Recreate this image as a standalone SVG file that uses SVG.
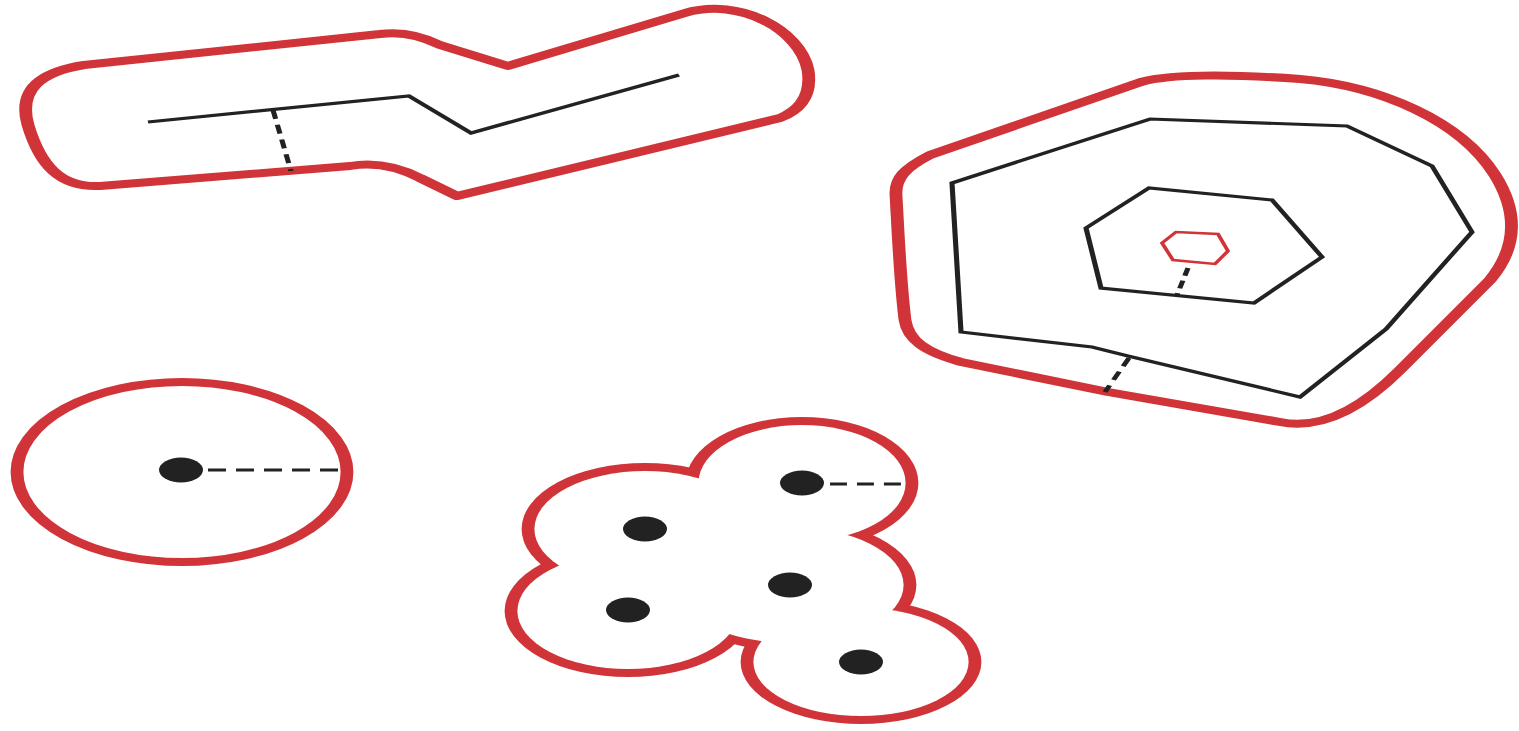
<svg xmlns="http://www.w3.org/2000/svg" width="1519" height="731" viewBox="0 0 1519 731">
<style>
.buf{fill:none;stroke:#d03438;stroke-width:8;stroke-linejoin:round}
.geom{fill:none;stroke:#222;stroke-width:3.2;stroke-linejoin:miter}
.dash{fill:none;stroke:#222;stroke-width:3.2}
.dot{fill:#222}
.rf{fill:#d03438}
.wf{fill:#fff}
</style>
<rect width="1519" height="731" fill="#fff"/>
<g transform="matrix(1.6,0,0,1,0,0)">
<g id="line-buffer">
<path class="buf" d="M 52.5,65 L 237.5,34 Q 256.25,30 275,45 L 317.5,66 L 428.125,13 C 462.5,-3 500,30 505,70 C 507.5,95 500,110 487.5,118 L 285.625,196 L 262.5,178 Q 240.625,160 218.75,166 L 62.5,186 C 37.5,188 25,165 17.5,125 C 11.25,90 25,72 52.5,65 Z"/>
<polyline class="geom" points="92.5,122 255.625,96 294.375,133 424.375,75"/>
<line class="dash" x1="170.625" y1="110" x2="181.875" y2="171" stroke-dasharray="9,6"/>
</g>
<g id="polygon-buffer">
<path class="buf" d="M 560,195 C 559.375,178 565.625,168 581.25,155 L 713.125,82 C 731.25,74 768.75,74 812.5,79 C 862.5,86 912.5,120 934.375,175 C 950,215 946.875,250 931.25,280 L 875,370 C 850,410 825,430 800,422 L 692.5,392 L 600.625,362 C 578.125,352 567.5,340 565.625,320 C 562.5,280 561.25,230 560,195 Z"/>
<polygon class="geom" points="595,183 718.75,119 841.875,126 895,166 920,232 866.25,329 812.5,397 705,356 682.5,347 600.625,332"/>
<polygon class="geom" points="678.75,228 718.125,188 795,200 826.25,257 783.75,303 688.125,288"/>
<polygon fill="none" stroke="#d03438" stroke-width="2.5" points="726.25,243 735,232 761.25,234 767.5,251 759.375,264 733.125,260"/>
<line class="dash" x1="742.5" y1="268" x2="735.625" y2="295" stroke-dasharray="8,5"/>
<line class="dash" x1="705.625" y1="358" x2="690.625" y2="392" stroke-dasharray="9,6"/>
</g>
<g id="point-buffer">
<ellipse class="buf" cx="113.75" cy="472" rx="103.125" ry="90"/>
<line class="dash" x1="130" y1="470" x2="215.625" y2="470" stroke-dasharray="11.25,6.25"/>
<ellipse class="dot" cx="113.125" cy="470" rx="13.75" ry="12.5"/>
</g>
<g id="multipoint-buffer">
<ellipse class="rf" cx="501.25" cy="483" rx="72.75" ry="66"/>
<ellipse class="rf" cx="403.125" cy="529" rx="77.125" ry="66"/>
<ellipse class="rf" cx="493.75" cy="585" rx="79" ry="66"/>
<ellipse class="rf" cx="392.5" cy="611" rx="77.125" ry="66"/>
<ellipse class="rf" cx="538.125" cy="662" rx="75.25" ry="62"/>
<ellipse class="wf" cx="501.25" cy="483" rx="64.75" ry="58"/>
<ellipse class="wf" cx="403.125" cy="529" rx="69.125" ry="58"/>
<ellipse class="wf" cx="493.75" cy="585" rx="71" ry="58"/>
<ellipse class="wf" cx="392.5" cy="611" rx="69.125" ry="58"/>
<ellipse class="wf" cx="538.125" cy="662" rx="67.25" ry="54"/>
<line class="dash" x1="518.75" y1="484" x2="567.5" y2="484" stroke-dasharray="10.6,6.25"/>
<ellipse class="dot" cx="501.25" cy="483" rx="13.75" ry="12.5"/>
<ellipse class="dot" cx="403.125" cy="529" rx="13.75" ry="12.5"/>
<ellipse class="dot" cx="493.75" cy="585" rx="13.75" ry="12.5"/>
<ellipse class="dot" cx="392.5" cy="610" rx="13.75" ry="12.5"/>
<ellipse class="dot" cx="538.125" cy="662" rx="13.75" ry="12.5"/>
</g>
</g>
</svg>
